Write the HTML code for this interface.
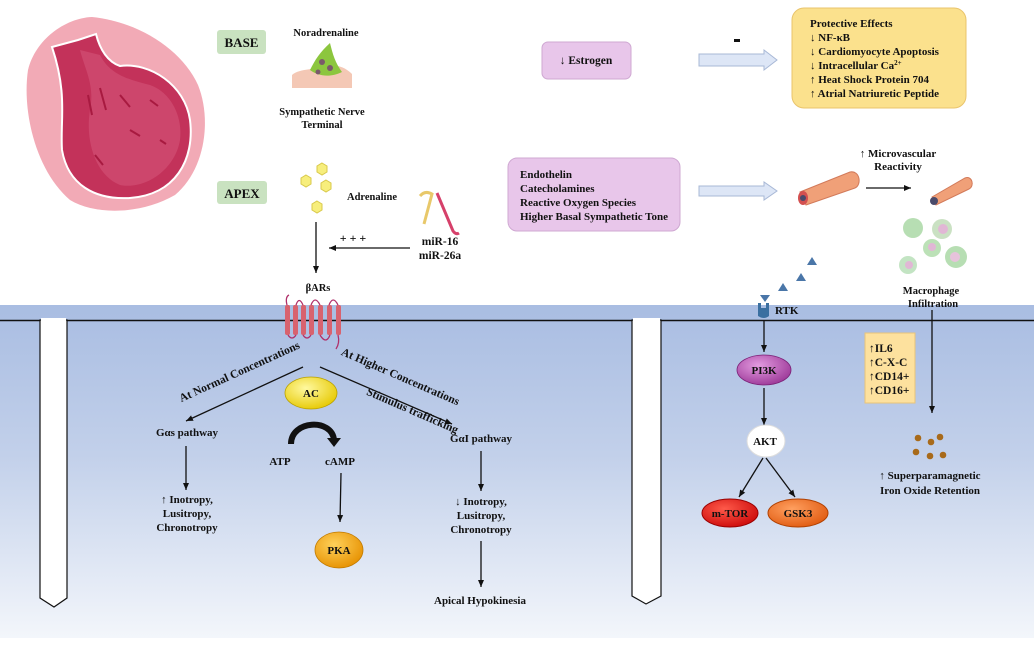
<!DOCTYPE html>
<html><head><meta charset="utf-8"><style>
html,body{margin:0;padding:0;background:#fff}
svg{display:block}
text{font-family:"Liberation Serif",serif;font-weight:bold;fill:#111}
</style></head><body>
<svg width="1034" height="646" viewBox="0 0 1034 646" xmlns="http://www.w3.org/2000/svg">
<defs>
<linearGradient id="bg" x1="0" y1="0" x2="0" y2="1">
<stop offset="0" stop-color="#a9bde2"/><stop offset="0.45" stop-color="#c2d0ea"/><stop offset="1" stop-color="#f3f6fb"/>
</linearGradient>
<radialGradient id="yel" cx="0.4" cy="0.35" r="0.7"><stop offset="0" stop-color="#fff9a0"/><stop offset="1" stop-color="#e6c800"/></radialGradient>
<radialGradient id="org" cx="0.4" cy="0.35" r="0.7"><stop offset="0" stop-color="#ffd15a"/><stop offset="1" stop-color="#e69000"/></radialGradient>
<radialGradient id="pur" cx="0.4" cy="0.35" r="0.7"><stop offset="0" stop-color="#e39be0"/><stop offset="1" stop-color="#9b3797"/></radialGradient>
<radialGradient id="red" cx="0.4" cy="0.35" r="0.7"><stop offset="0" stop-color="#ff5a4a"/><stop offset="1" stop-color="#cc0a0a"/></radialGradient>
<radialGradient id="org2" cx="0.4" cy="0.35" r="0.7"><stop offset="0" stop-color="#ffa060"/><stop offset="1" stop-color="#e05a10"/></radialGradient>
<marker id="ah" markerWidth="8" markerHeight="8" refX="7" refY="4" orient="auto" markerUnits="userSpaceOnUse"><path d="M0,1 L7,4 L0,7 Z" fill="#111"/></marker>
</defs>

<rect x="0" y="305" width="1034" height="333" fill="url(#bg)"/>
<line x1="0" y1="320.5" x2="1034" y2="320.5" stroke="#111" stroke-width="1.5"/>
<path d="M40,320 L40,598 L54,607 L67,598 L67,320 Z" fill="#fff" stroke="#111" stroke-width="1.2"/>
<rect x="41" y="318" width="25" height="4" fill="#fff"/>
<path d="M632,320 L632,596 L646,604 L661,596 L661,320 Z" fill="#fff" stroke="#111" stroke-width="1.2"/>
<rect x="633" y="318" width="27" height="4" fill="#fff"/>

<!-- heart -->
<path d="M92,17 C65,18 35,40 28,70 C22,110 35,170 70,200 C95,215 140,215 175,195 C205,170 212,120 198,85 C182,50 140,22 92,17 Z" fill="#f2aab6"/>
<path d="M52,47 L78,40 L96,34 C100,50 108,62 120,66 C150,62 185,85 190,120 C195,160 175,195 130,198 C95,200 68,185 62,150 C60,120 68,95 52,47 Z" fill="#c3325a" stroke="#fff" stroke-width="2"/>
<path d="M80,50 C85,70 95,85 90,110 C85,140 95,175 120,185 C145,190 175,170 180,140 C183,115 170,92 150,85 C130,80 110,75 100,55 Z" fill="#d24e74" opacity="0.7"/>
<path d="M88,95 l4,20 M100,88 l6,22 M120,95 l10,12 M150,100 l8,6 M130,130 l10,6 M95,155 l8,10 M160,140 l6,4" stroke="#a81a40" stroke-width="2"/>

<rect x="217" y="30" width="49" height="24" rx="3" fill="#c9e2c0"/>
<text x="241.5" y="47" font-size="13" text-anchor="middle">BASE</text>
<rect x="217" y="181" width="50" height="23" rx="3" fill="#c9e2c0"/>
<text x="242" y="198" font-size="13" text-anchor="middle">APEX</text>

<text x="326" y="36" font-size="10.5" text-anchor="middle">Noradrenaline</text>
<path d="M292,75 C300,68 315,70 330,66 C340,64 348,70 352,74 L352,88 L292,88 Z" fill="#f4c8b5"/>
<path d="M310,70 C315,60 320,52 330,43 C333,55 335,62 342,72 C330,78 318,76 310,70 Z" fill="#8cc63e"/>
<circle cx="322" cy="62" r="3" fill="#7a5a6a"/><circle cx="330" cy="68" r="3" fill="#7a5a6a"/><circle cx="318" cy="72" r="2.5" fill="#7a5a6a"/>
<text x="322" y="115" font-size="10.5" text-anchor="middle">Sympathetic Nerve</text>
<text x="322" y="128" font-size="10.5" text-anchor="middle">Terminal</text>

<g fill="#f7ee7c" stroke="#d8c84a" stroke-width="1">
<polygon points="322,163 327,166 327,172 322,175 317,172 317,166"/>
<polygon points="306,175 311,178 311,184 306,187 301,184 301,178"/>
<polygon points="326,180 331,183 331,189 326,192 321,189 321,183"/>
<polygon points="317,201 322,204 322,210 317,213 312,210 312,204"/>
</g>
<text x="372" y="200" font-size="10.5" text-anchor="middle">Adrenaline</text>
<path d="M420,196 q5,-6 12,-2 l-8,30" stroke="#e8c86a" stroke-width="3" fill="none"/>
<path d="M437,193 l16,38 q3,4 6,2" stroke="#d6406a" stroke-width="3" fill="none"/>
<text x="440" y="245" font-size="11.5" text-anchor="middle">miR-16</text>
<text x="440" y="259" font-size="11.5" text-anchor="middle">miR-26a</text>
<text x="353" y="242" font-size="12" text-anchor="middle">+ + +</text>
<line x1="410" y1="248" x2="329" y2="248" stroke="#111" stroke-width="1.3" marker-end="url(#ah)"/>
<line x1="316" y1="222" x2="316" y2="273" stroke="#111" stroke-width="1.3" marker-end="url(#ah)"/>
<text x="318" y="291" font-size="10.5" text-anchor="middle">βARs</text>

<g fill="#d8626e">
<rect x="285" y="305" width="5" height="30" rx="2"/><rect x="293" y="305" width="5" height="30" rx="2"/><rect x="301" y="305" width="5" height="30" rx="2"/>
<rect x="309" y="305" width="5" height="30" rx="2"/><rect x="318" y="305" width="5" height="30" rx="2"/><rect x="327" y="305" width="5" height="30" rx="2"/><rect x="336" y="305" width="5" height="30" rx="2"/>
</g>
<path d="M287,305 q-2,-8 2,-10 M288,335 q4,6 8,0 M296,305 q3,-9 7,0 M303,335 q4,6 8,0 M311,305 q4,-10 9,0 M320,335 q6,10 10,0 M329,305 q4,-10 9,0 M338,335 q2,8 -2,14" stroke="#b0306a" stroke-width="1.3" fill="none"/>

<line x1="303" y1="367" x2="186" y2="421" stroke="#111" stroke-width="1.3" marker-end="url(#ah)"/>
<text transform="translate(241,375) rotate(-24.5)" font-size="11.5" text-anchor="middle">At Normal Concentrations</text>
<line x1="320" y1="367" x2="452" y2="424" stroke="#111" stroke-width="1.3" marker-end="url(#ah)"/>
<text transform="translate(399,380) rotate(23.5)" font-size="11.5" text-anchor="middle">At Higher Concentrations</text>
<text transform="translate(411,414) rotate(23.5)" font-size="11.5" text-anchor="middle">Stimulus trafficking</text>

<ellipse cx="311" cy="393" rx="26" ry="16" fill="url(#yel)" stroke="#b8a000" stroke-width="0.8"/>
<text x="311" y="397" font-size="11" text-anchor="middle">AC</text>
<path d="M291,444 C291,420 332,418 334,440" stroke="#111" stroke-width="6" fill="none"/>
<path d="M327,438 L341,438 L334,447 Z" fill="#111"/>
<text x="280" y="465" font-size="11" text-anchor="middle">ATP</text>
<text x="340" y="465" font-size="11" text-anchor="middle">cAMP</text>
<line x1="341" y1="473" x2="340" y2="522" stroke="#111" stroke-width="1.3" marker-end="url(#ah)"/>
<ellipse cx="339" cy="550" rx="24" ry="18" fill="url(#org)" stroke="#c07a00" stroke-width="0.8"/>
<text x="339" y="554" font-size="11" text-anchor="middle">PKA</text>

<text x="187" y="436" font-size="11" text-anchor="middle">Gαs pathway</text>
<line x1="186" y1="446" x2="186" y2="490" stroke="#111" stroke-width="1.3" marker-end="url(#ah)"/>
<text x="187" y="503" font-size="11" text-anchor="middle">↑ Inotropy,</text>
<text x="187" y="517" font-size="11" text-anchor="middle">Lusitropy,</text>
<text x="187" y="531" font-size="11" text-anchor="middle">Chronotropy</text>

<text x="481" y="442" font-size="11" text-anchor="middle">GαI pathway</text>
<line x1="481" y1="451" x2="481" y2="491" stroke="#111" stroke-width="1.3" marker-end="url(#ah)"/>
<text x="481" y="505" font-size="11" text-anchor="middle">↓ Inotropy,</text>
<text x="481" y="519" font-size="11" text-anchor="middle">Lusitropy,</text>
<text x="481" y="533" font-size="11" text-anchor="middle">Chronotropy</text>
<line x1="481" y1="541" x2="481" y2="587" stroke="#111" stroke-width="1.3" marker-end="url(#ah)"/>
<text x="480" y="604" font-size="11" text-anchor="middle">Apical Hypokinesia</text>

<rect x="542" y="42" width="89" height="37" rx="6" fill="#e8c6ea" stroke="#cfa8d2"/>
<text x="586" y="64" font-size="11.5" text-anchor="middle">↓ Estrogen</text>
<rect x="734" y="39" width="6" height="3" fill="#111"/>
<path d="M699,54 L764,54 L764,50 L777,60 L764,70 L764,66 L699,66 Z" fill="#dde6f6" stroke="#a8b8d6"/>
<rect x="792" y="8" width="174" height="100" rx="12" fill="#fbe18d" stroke="#e9c46c"/>
<g font-size="11">
<text x="810" y="27">Protective Effects</text>
<text x="810" y="41">↓ NF-κB</text>
<text x="810" y="55">↓  Cardiomyocyte Apoptosis</text>
<text x="810" y="69">↓ Intracellular Ca<tspan font-size="7" dy="-4">2+</tspan></text>
<text x="810" y="83">↑ Heat Shock Protein 704</text>
<text x="810" y="97">↑ Atrial Natriuretic Peptide</text>
</g>

<rect x="508" y="158" width="172" height="73" rx="9" fill="#e8c6ea" stroke="#cfa8d2"/>
<g font-size="11">
<text x="520" y="178">Endothelin</text>
<text x="520" y="192">Catecholamines</text>
<text x="520" y="206">Reactive Oxygen Species</text>
<text x="520" y="220">Higher Basal Sympathetic Tone</text>
</g>
<path d="M699,186 L764,186 L764,182 L777,191 L764,200 L764,196 L699,196 Z" fill="#dde6f6" stroke="#a8b8d6"/>
<path d="M800,192 L850,172 C860,170 862,185 855,188 L806,205 Z" fill="#f0a078" stroke="#d27a5a"/>
<ellipse cx="803" cy="198" rx="5" ry="7" fill="#d35050"/><circle cx="803" cy="198" r="3" fill="#4a4a6a"/>
<line x1="866" y1="188" x2="911" y2="188" stroke="#111" stroke-width="1.3" marker-end="url(#ah)"/>
<path d="M932,197 L965,178 C972,175 975,186 969,189 L936,205 Z" fill="#f0a078" stroke="#d27a5a"/>
<circle cx="934" cy="201" r="4" fill="#4a4a6a"/>
<text x="898" y="157" font-size="11" text-anchor="middle">↑ Microvascular</text>
<text x="898" y="170" font-size="11" text-anchor="middle">Reactivity</text>
<g opacity="0.75">
<circle cx="913" cy="228" r="10" fill="#9fd49a"/><circle cx="942" cy="229" r="10" fill="#b9d8b0"/><circle cx="943" cy="229" r="5" fill="#d8a0c8"/>
<circle cx="932" cy="248" r="9" fill="#a6d8a0"/><circle cx="932" cy="247" r="4" fill="#d8a0c8"/>
<circle cx="908" cy="265" r="9" fill="#b0dcb0"/><circle cx="909" cy="265" r="4" fill="#d8a0c8"/>
<circle cx="956" cy="257" r="11" fill="#9fd49a"/><circle cx="955" cy="257" r="5" fill="#e0b0d0"/>
</g>
<text x="931" y="294" font-size="10.5" text-anchor="middle">Macrophage</text>
<text x="933" y="307" font-size="10.5" text-anchor="middle">Infiltration</text>
<line x1="932" y1="310" x2="932" y2="413" stroke="#111" stroke-width="1.3" marker-end="url(#ah)"/>

<g fill="#4a76a8">
<polygon points="812,257 817,265 807,265"/>
<polygon points="801,273 806,281 796,281"/>
<polygon points="783,283 788,291 778,291"/>
<polygon points="760,295 770,295 765,302"/>
</g>
<path d="M758,303 L758,316 Q764,320 769,316 L769,303 L766,303 L766,308 L761,308 L761,303 Z" fill="#3a6fa0"/>
<text x="775" y="314" font-size="11">RTK</text>
<line x1="764" y1="320" x2="764" y2="352" stroke="#111" stroke-width="1.3" marker-end="url(#ah)"/>
<ellipse cx="764" cy="370" rx="27" ry="15" fill="url(#pur)" stroke="#7a2076" stroke-width="0.8"/>
<text x="764" y="374" font-size="11" text-anchor="middle">PI3K</text>
<line x1="764" y1="388" x2="764" y2="425" stroke="#111" stroke-width="1.3" marker-end="url(#ah)"/>
<ellipse cx="766" cy="441" rx="19" ry="16" fill="#fff" stroke="#ddd"/>
<text x="765" y="445" font-size="11" text-anchor="middle">AKT</text>
<line x1="763" y1="458" x2="739" y2="497" stroke="#111" stroke-width="1.3" marker-end="url(#ah)"/>
<line x1="766" y1="458" x2="795" y2="497" stroke="#111" stroke-width="1.3" marker-end="url(#ah)"/>
<ellipse cx="730" cy="513" rx="28" ry="14" fill="url(#red)" stroke="#900"/>
<text x="730" y="517" font-size="11" text-anchor="middle">m-TOR</text>
<ellipse cx="798" cy="513" rx="30" ry="14" fill="url(#org2)" stroke="#b04000"/>
<text x="798" y="517" font-size="11" text-anchor="middle">GSK3</text>

<rect x="865" y="333" width="50" height="70" fill="#fde19e" stroke="#e8c47a"/>
<g font-size="11.5">
<text x="869" y="352">↑IL6</text>
<text x="869" y="366">↑C-X-C</text>
<text x="869" y="380">↑CD14+</text>
<text x="869" y="394">↑CD16+</text>
</g>
<g fill="#a86a1a">
<circle cx="918" cy="438" r="3.3"/><circle cx="931" cy="442" r="3.3"/><circle cx="940" cy="437" r="3.3"/>
<circle cx="916" cy="452" r="3.3"/><circle cx="930" cy="456" r="3.3"/><circle cx="943" cy="455" r="3.3"/>
</g>
<text x="930" y="479" font-size="11" text-anchor="middle">↑ Superparamagnetic</text>
<text x="930" y="494" font-size="11" text-anchor="middle">Iron Oxide Retention</text>
</svg>
</body></html>
